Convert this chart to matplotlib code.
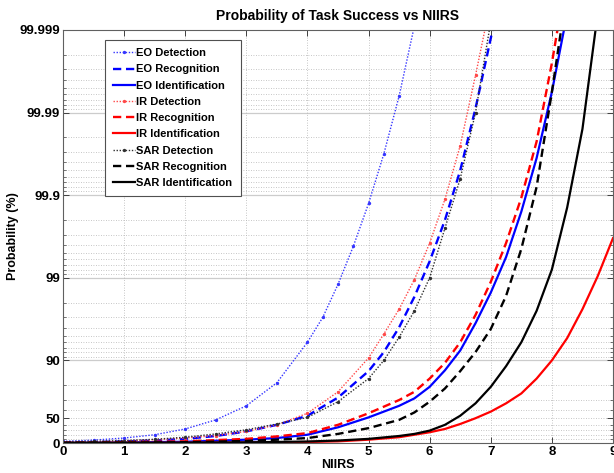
import numpy as np
import matplotlib
matplotlib.use("Agg")
import matplotlib.pyplot as plt
from matplotlib.ticker import FixedLocator, FixedFormatter

plt.rcParams['font.family'] = ['Liberation Sans', 'DejaVu Sans']
plt.rcParams['font.weight'] = 'bold'

# ---------------- data (probability of success, %) ----------------
eo_det_n = [0, 0.5, 1, 1.5, 2, 2.5, 3, 3.5, 4, 4.25, 4.5, 4.75, 5, 5.25, 5.5, 5.75]
eo_det_p = [4.50, 7.74, 12.90, 20.57, 32.39, 47.52, 64.52, 81.38, 93.97, 96.98,
            98.80, 99.583, 99.874, 99.9684, 99.99369, 99.99911]

ir_det_n = [0, 0.5, 1, 1.5, 2, 2.5, 3, 3.5, 4, 4.5, 5, 5.25, 5.5, 5.75, 6, 6.25, 6.5, 6.75, 7.0]
ir_det_p = [2.28, 3.39, 5.59, 8.80, 12.90, 18.72, 27.56, 39.74, 56.35, 76.01, 90.67,
            95.21, 97.60, 98.95, 99.620, 99.888, 99.9749, 99.99645, 99.99955]

eo_rec_n = [0, 0.5, 1, 1.5, 2, 2.5, 3, 3.5, 4, 4.5, 5, 5.25, 5.5, 5.75, 6, 6.25, 6.5, 6.75, 7.0, 7.25]
eo_rec_p = [1.83, 2.72, 4.50, 6.67, 10.87, 17.78, 27.56, 39.74, 53.23, 71.82, 86.51,
            92.06, 96.02, 98.30, 99.369, 99.800, 99.9499, 99.99109, 99.99874, 99.99984]

sar_det_n = [0, 0.5, 1, 1.5, 2, 2.5, 3, 3.5, 4, 4.5, 5, 5.25, 5.5, 5.75, 6, 6.25, 6.5, 6.75, 7.0]
sar_det_p = [3.39, 4.50, 6.67, 9.84, 14.89, 22.38, 30.82, 41.12, 51.02, 68.38, 83.40,
             90.00, 94.75, 97.49, 99.00, 99.749, 99.9369, 99.9900, 99.99921]

ir_rec_n = [0, 1, 2, 3, 3.5, 4, 4.5, 5, 5.5, 5.75, 6, 6.25, 6.5, 6.75, 7, 7.25, 7.5, 7.75, 8, 8.25]
ir_rec_p = [1.14, 2.28, 4.50, 10.87, 16.82, 24.14, 39.74, 56.35, 69.80, 76.01, 83.40,
            89.28, 93.97, 97.18, 98.88, 99.620, 99.893, 99.9776, 99.99749, 99.99980]

eo_id_n = [0, 1, 2, 3, 3.5, 4, 4.5, 5, 5.5, 5.75, 6, 6.25, 6.5, 6.75, 7, 7.25, 7.5, 7.75, 8, 8.25]
eo_id_p = [0.69, 1.60, 3.39, 8.80, 12.90, 20.57, 35.43, 51.02, 64.52, 71.16, 79.11,
           86.82, 92.41, 96.45, 98.49, 99.438, 99.842, 99.9645, 99.99438, 99.99937]

sar_rec_n = [0, 1, 2, 3, 3.5, 4, 4.5, 5, 5.5, 5.75, 6, 6.25, 6.5, 6.75, 7, 7.25, 7.5, 7.75, 8, 8.25]
sar_rec_p = [0.46, 1.14, 2.28, 5.59, 8.80, 12.90, 22.38, 33.93, 47.52, 57.34, 68.38,
             78.12, 86.51, 92.06, 95.83, 98.34, 99.553, 99.9206, 99.99438, 99.99968]

sar_id_n = [0, 1, 2, 3, 4, 4.5, 5, 5.5, 5.75, 6, 6.25, 6.5, 6.75, 7, 7.25, 7.5, 7.75, 8, 8.25, 8.5, 8.75]
sar_id_p = [0.23, 0.46, 0.92, 1.83, 4.06, 6.67, 10.87, 17.78, 22.38, 29.21, 39.74, 53.23,
            66.89, 79.11, 88.25, 93.97, 97.49, 99.206, 99.859, 99.9842, 99.99937]

ir_id_n = [0, 1, 2, 3, 4, 4.5, 5, 5.5, 6, 6.25, 6.5, 6.75, 7, 7.25, 7.5, 7.75, 8, 8.25, 8.5, 8.75, 9]
ir_id_p = [0.23, 0.46, 0.69, 1.37, 2.72, 4.50, 8.80, 14.89, 25.87, 32.39, 41.12, 49.88,
           58.31, 66.89, 74.88, 83.40, 90.00, 94.63, 97.60, 99.045, 99.669]

x_ticks = [0, 1, 2, 3, 4, 5, 6, 7, 8, 9]
y_ticks = [0, 50, 90, 99, 99.9, 99.99, 99.999]
y_tick_labels = ['0', '50', '90', '99', '99.9', '99.99', '99.999']
y_minor = [10, 20, 30, 40, 60, 70, 80] + \
          [90 + k for k in range(1, 9)] + \
          [99 + k / 10 for k in range(1, 9)] + \
          [99.9 + k / 100 for k in range(1, 9)] + \
          [99.99 + k / 1000 for k in range(1, 9)]


def fwd(p):
    p = np.asarray(p, dtype=float)
    q = np.clip(1 - p / 100.0, 1e-12, None)
    return -np.log10(q)


def inv(t):
    t = np.asarray(t, dtype=float)
    return 100.0 * (1 - 10.0 ** (-t))


fig = plt.figure(figsize=(6.14, 4.73), dpi=100)
ax = fig.add_axes([63 / 614, 30 / 473, 550 / 614, 413 / 473])
ax.set_yscale('function', functions=(fwd, inv))

# grid
for v in y_minor + [50]:
    ax.axhline(v, color='#b4b4b4', lw=0.6, ls=(0, (1, 2)), zorder=0)
for v in [90, 99, 99.9, 99.99]:
    ax.axhline(v, color='#cccccc', lw=0.9, ls='-', zorder=0)
for v in x_ticks[1:-1]:
    ax.axvline(v, color='#b4b4b4', lw=0.6, ls=(0, (1, 2)), zorder=0)

det_style = dict(lw=1.0, ls=(0, (1, 1.2)), marker='.', markersize=2.8)
rec_style = dict(lw=1.7, ls=(0, (3.5, 2)))
id_style = dict(lw=1.6, ls='-')

ax.plot(eo_det_n, eo_det_p, color='#3535ff', label='EO Detection', **det_style)
ax.plot(eo_rec_n, eo_rec_p, color='#0000ff', label='EO Recognition', **rec_style)
ax.plot(eo_id_n, eo_id_p, color='#0000ff', label='EO Identification', **id_style)
ax.plot(ir_det_n, ir_det_p, color='#ff4848', label='IR Detection', **det_style)
ax.plot(ir_rec_n, ir_rec_p, color='#ff0000', label='IR Recognition', **rec_style)
ax.plot(ir_id_n, ir_id_p, color='#ff0000', label='IR Identification', **id_style)
ax.plot(sar_det_n, sar_det_p, color='#303030', label='SAR Detection', **det_style)
ax.plot(sar_rec_n, sar_rec_p, color='#000000', label='SAR Recognition', **rec_style)
ax.plot(sar_id_n, sar_id_p, color='#000000', label='SAR Identification', **id_style)

ax.set_xlim(0, 9)
ax.set_ylim(0, 99.999)
ax.set_xticks(x_ticks)
ax.set_xticklabels([str(v) for v in x_ticks])
ax.yaxis.set_major_locator(FixedLocator(y_ticks))
ax.yaxis.set_major_formatter(FixedFormatter(y_tick_labels))
ax.yaxis.set_minor_locator(FixedLocator(y_minor))
ax.yaxis.set_minor_formatter(FixedFormatter([''] * len(y_minor)))

ax.tick_params(which='both', direction='in', top=True, right=True, colors='#404040',
               labelcolor='black', labelsize=9.5, pad=2)
ax.tick_params(which='major', length=4, width=0.7)
ax.tick_params(which='minor', length=2, width=0.5)
for lab in ax.get_xticklabels() + ax.get_yticklabels():
    lab.set_fontweight('bold')
for s in ax.spines.values():
    s.set_color('#606060')
    s.set_linewidth(0.8)

ax.set_title('Probability of Task Success vs NIIRS', fontsize=10, fontweight='bold', pad=7)
ax.set_xlabel('NIIRS', fontsize=9, fontweight='bold', labelpad=1)
ax.set_ylabel('Probability (%)', fontsize=9, fontweight='bold', labelpad=0.5)

leg = ax.legend(loc='upper left', bbox_to_anchor=(0.076, 0.976), fontsize=8,
                frameon=True, fancybox=False, edgecolor='#505050', framealpha=1,
                handlelength=2.0, handletextpad=0.1, labelspacing=0.56,
                borderpad=0.75, borderaxespad=0)
leg.get_frame().set_linewidth(0.8)
for t in leg.get_texts():
    t.set_fontweight('bold')

fig.savefig('out.png', dpi=100)
